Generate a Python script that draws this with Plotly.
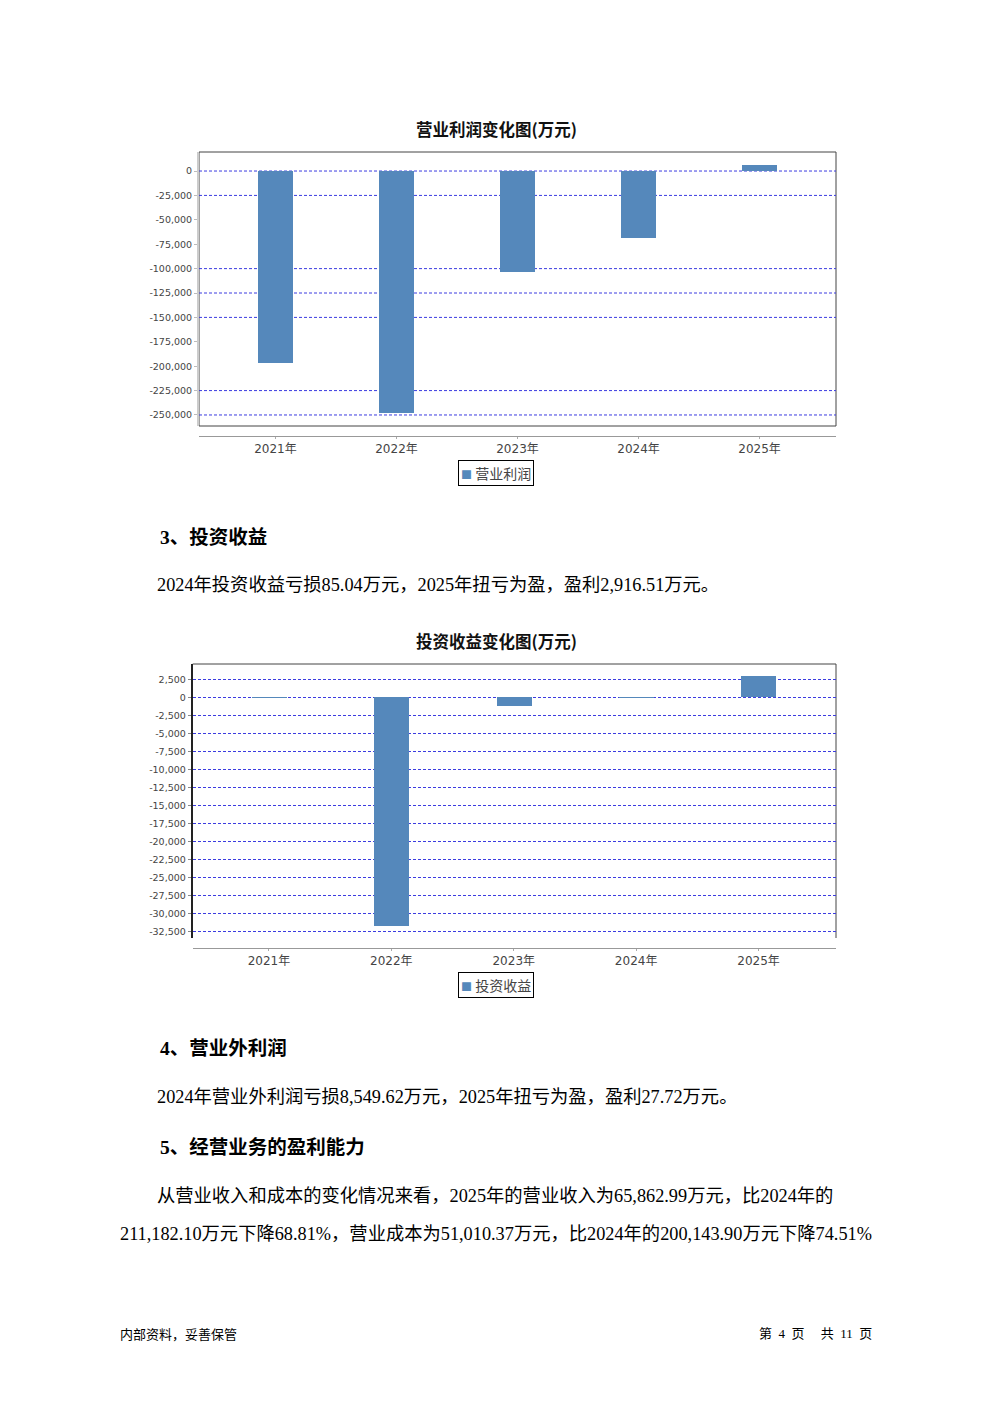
import plotly.graph_objects as go

W, H = 992, 1403

# ---------------- data ----------------
categories = ["2021年", "2022年", "2023年", "2024年", "2025年"]
op_profit = [-196400, -248000, -103500, -68600, 5800]          # 营业利润 (万元)
inv_income = [-60, -31720, -1210, -85.04, 2916.51]              # 投资收益 (万元)
series_names = ["营业利润", "投资收益"]
chart_titles = ["营业利润变化图(万元)", "投资收益变化图(万元)"]
op_ticks = list(range(0, -250001, -25000))
inv_ticks = list(range(2500, -32501, -2500))
op_grid_visible = [0, -25000, -100000, -125000, -150000, -225000, -250000]

BAR = "#5588bb"
GRID = "#3c3ce0"
SANS = "DejaVu Sans, Noto Sans CJK SC, sans-serif"
BODY = "Liberation Serif, Noto Sans CJK SC, serif"
CJK = "Noto Sans CJK SC, sans-serif"
NB = "\u00a0"


def px(p):
    return p / W


def py(p):
    return 1 - p / H


def fmt(v):
    return f"{v:,}"


fig = go.Figure()
fig.add_trace(go.Bar(x=categories, y=op_profit, name=series_names[0], marker_color=BAR,
                     marker_line_width=0, width=0.29, xaxis="x", yaxis="y", showlegend=False))
fig.add_trace(go.Bar(x=categories, y=inv_income, name=series_names[1], marker_color=BAR,
                     marker_line_width=0, width=0.286, xaxis="x2", yaxis="y2", showlegend=False))

xcommon = dict(type="category", showline=True, linecolor="#999999", linewidth=1,
               ticks="outside", ticklen=2, tickcolor="#aaaaaa", showgrid=False, zeroline=False,
               tickfont=dict(family=SANS, size=12, color="#444444"), fixedrange=True)

fig.update_layout(
    width=W, height=H,
    margin=dict(l=0, r=0, t=0, b=0),
    paper_bgcolor="white", plot_bgcolor="white",
    showlegend=False,
    bargap=0,
    xaxis=dict(xcommon, domain=[px(199), px(836)], anchor="free", position=py(436),
               range=[-0.632, 4.632]),
    yaxis=dict(domain=[py(426), py(152)], anchor="x", range=[-261300, 19500],
               tickvals=op_ticks, ticktext=[fmt(v) for v in op_ticks],
               showline=True, linecolor="#cccccc", linewidth=2,
               ticks="outside", ticklen=3, tickcolor="#bbbbbb",
               showgrid=False, zeroline=False, fixedrange=True,
               tickfont=dict(family=SANS, size=9.5, color="#444444")),
    xaxis2=dict(xcommon, domain=[px(192.7), px(836)], anchor="free", position=py(948),
                range=[-0.623, 4.633]),
    yaxis2=dict(domain=[py(938), py(664)], anchor="x2", range=[-33430, 4625],
                tickvals=inv_ticks, ticktext=[fmt(v) for v in inv_ticks],
                showline=True, linecolor="#222222", linewidth=2,
                ticks="outside", ticklen=3, tickcolor="#888888",
                showgrid=True, gridcolor=GRID, gridwidth=1, griddash="3px,2px",
                zeroline=False, fixedrange=True,
                tickfont=dict(family=SANS, size=9.5, color="#444444")),
)

shapes = []
# chart 1 frame
shapes.append(dict(type="rect", xref="x domain", yref="y domain", x0=0, x1=1, y0=0, y1=1,
                   line=dict(color="#444444", width=1), layer="below"))
# chart 1 gridlines (those visible in the reference)
for v in op_grid_visible:
    shapes.append(dict(type="line", xref="x domain", yref="y", x0=0, x1=1, y0=v, y1=v,
                       line=dict(color=GRID, width=1, dash="3px,2px"), layer="below"))
# chart 2 frame (top + right)
shapes.append(dict(type="line", xref="x2 domain", yref="y2 domain", x0=0, x1=1, y0=1, y1=1,
                   line=dict(color="#444444", width=1), layer="below"))
shapes.append(dict(type="line", xref="x2 domain", yref="y2 domain", x0=1, x1=1, y0=0, y1=1,
                   line=dict(color="#444444", width=1), layer="below"))
fig.update_layout(shapes=shapes)

ann = []


def text(x, y, s, size, family=BODY, anchor="left", color="#000000", bold=False):
    if bold:
        s = f"<b>{s}</b>"
    ann.append(dict(xref="paper", yref="paper", x=px(x), y=py(y), text=s, showarrow=False,
                    xanchor=anchor, yanchor="middle",
                    font=dict(family=family, size=size, color=color)))


# chart titles
text(496, 129, chart_titles[0], 16.5, family=CJK, anchor="center", color="#111111", bold=True)
text(496, 641, chart_titles[1], 16.5, family=CJK, anchor="center", color="#111111", bold=True)

# legends
for name, yy in zip(series_names, [473, 985]):
    ann.append(dict(xref="paper", yref="paper", x=px(496), y=py(yy),
                    text=f"<span style='color:{BAR};font-size:11px'>■</span> {name}",
                    showarrow=False, xanchor="center", yanchor="middle",
                    bordercolor="#000000", borderwidth=1, borderpad=2, bgcolor="white",
                    font=dict(family=CJK, size=14, color="#444444")))

# body text
text(158, 537, "3、投资收益", 19.5, bold=True)
text(155, 585, "2024年投资收益亏损85.04万元，2025年扭亏为盈，盈利2,916.51万元。", 18.3)
text(158, 1048, "4、营业外利润", 19.5, bold=True)
text(155, 1097, "2024年营业外利润亏损8,549.62万元，2025年扭亏为盈，盈利27.72万元。", 18.3)
text(158, 1147, "5、经营业务的盈利能力", 19.5, bold=True)
text(155, 1196, "从营业收入和成本的变化情况来看，2025年的营业收入为65,862.99万元，比2024年的", 18.3)
text(118, 1234, "211,182.10万元下降68.81%，营业成本为51,010.37万元，比2024年的200,143.90万元下降74.51%", 18.3)

# footer
text(118, 1333, "内部资料，妥善保管", 13, family=CJK)
text(874, 1333, f"第{NB*2}4{NB*2}页{NB*5}共{NB*2}11{NB*2}页", 13, family=BODY, anchor="right")

fig.update_layout(annotations=ann)

fig.write_html("out.html", config={"displayModeBar": False},
               post_script="document.body.style.margin='0';document.body.style.overflow='hidden';")
